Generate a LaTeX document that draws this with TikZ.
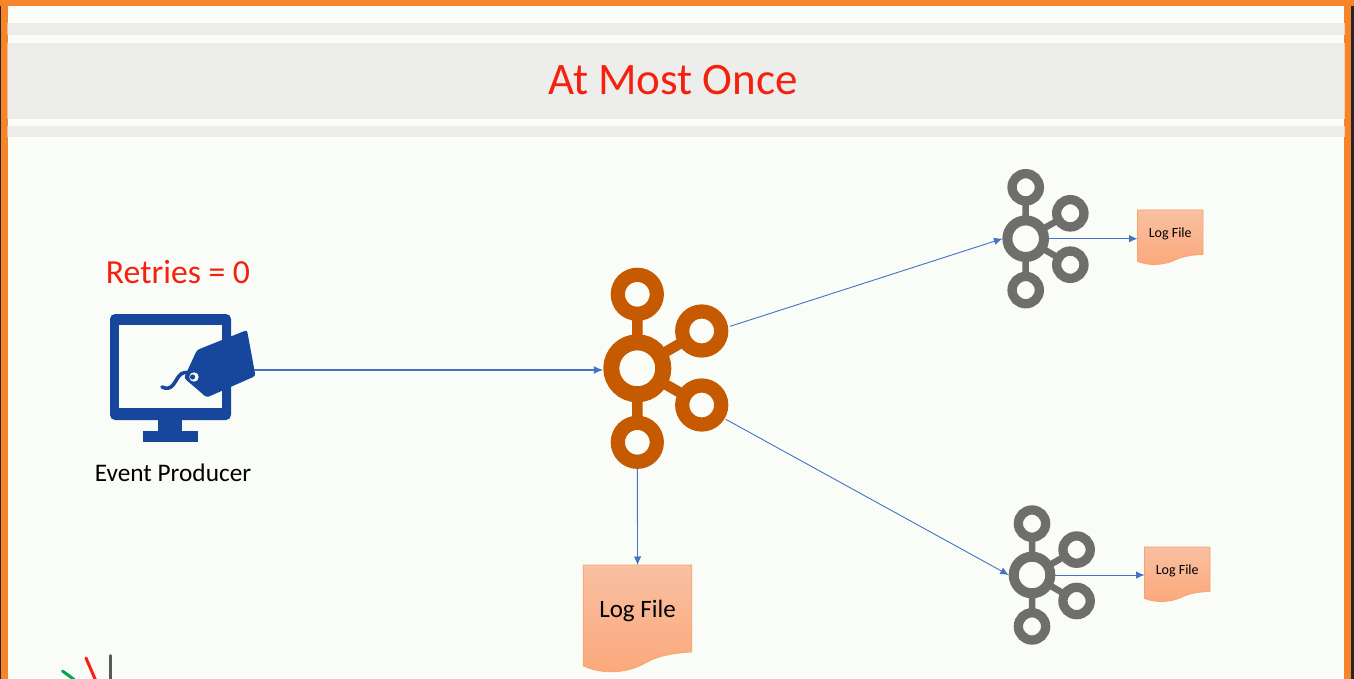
\documentclass[tikz,border=0pt]{standalone}
\usepackage{fontspec}
\setmainfont{Carlito}
\usetikzlibrary{arrows.meta}
\definecolor{bgc}{HTML}{FAFCF7}
\definecolor{bandc}{HTML}{EDEDEB}
\definecolor{framec}{HTML}{F5842B}
\definecolor{titlered}{HTML}{F5210F}
\definecolor{kafkaor}{HTML}{C55A00}
\definecolor{kafkagr}{HTML}{6E6E6A}
\definecolor{monblue}{HTML}{16479C}
\definecolor{arrowc}{HTML}{4472C4}
\definecolor{doctop}{HTML}{F9C0A2}
\definecolor{docbot}{HTML}{FBA87A}
\definecolor{docedge}{HTML}{F4A56E}
\tikzset{
  x=1pt,y=-1pt,
  band/.style={fill=bandc,draw=none},
  ringbig/.style={circle,draw=#1,line width=16pt,minimum size=52pt,inner sep=0pt},
  ringsm/.style={circle,draw=#1,line width=14.2pt,minimum size=39pt,inner sep=0pt},
  ringgbig/.style={circle,draw=#1,line width=10pt,minimum size=36.6pt,inner sep=0pt},
  ringgsm/.style={circle,draw=#1,line width=9.3pt,minimum size=27.3pt,inner sep=0pt},
  conn/.style={draw=arrowc,line width=0.9pt,-{Latex[length=8.5pt,width=7.5pt]}},
  connthick/.style={draw=arrowc,line width=1.6pt,-{Latex[length=9.5pt,width=8pt]}},
  doctext/.style={inner sep=0pt,text=black},
  docface/.style={draw=docedge,line width=0.7pt,top color=doctop,bottom color=docbot},
}
\newcommand{\kafkabig}[3]{%
  \begin{scope}[shift={(#2,#3)}]
    \draw[kafkaor,line width=10.5pt] (0,0)--(0,-74) (0,0)--(0,74) (0,0)--(64.4,-37.3) (0,0)--(64.4,36.7);
    \node[ringbig=kafkaor,fill=bgc] (#1c) at (0,0) {};
    \node[ringsm=kafkaor,fill=bgc] (#1t) at (0,-74) {};
    \node[ringsm=kafkaor,fill=bgc] (#1a) at (64.4,-37.3) {};
    \node[ringsm=kafkaor,fill=bgc] (#1b) at (64.4,36.7) {};
    \node[ringsm=kafkaor,fill=bgc] (#1d) at (0,74) {};
  \end{scope}}
\newcommand{\kafkasmall}[3]{%
  \begin{scope}[shift={(#2,#3)}]
    \draw[kafkagr,line width=6.5pt] (0,0)--(0,-51.4) (0,0)--(0,51.4) (0,0)--(44.6,-25.4) (0,0)--(44.6,26);
    \node[ringgbig=kafkagr,fill=bgc] (#1c) at (0,0) {};
    \node[ringgsm=kafkagr,fill=bgc] (#1t) at (0,-51.4) {};
    \node[ringgsm=kafkagr,fill=bgc] (#1a) at (44.6,-25.4) {};
    \node[ringgsm=kafkagr,fill=bgc] (#1b) at (44.6,26) {};
    \node[ringgsm=kafkagr,fill=bgc] (#1d) at (0,51.4) {};
  \end{scope}}
\newcommand{\logdoc}[7]{%
  \begin{scope}[shift={(#2,#3)},x=#4pt,y=-#5pt]
    \path[docface] (0,0)--(1,0)--(1,.8145)
      .. controls (.72,.83) and (.62,.89) .. (.55,.93)
      .. controls (.40,1.01) and (.18,1.03) .. (0,.945)--cycle;
  \end{scope}
  \node[minimum width=#4pt,minimum height=#5pt,inner sep=0pt,outer sep=0pt,anchor=north west] (#1) at (#2,#3) {};
  \node[doctext,font=\fontsize{#6}{#6}\selectfont] at (#2+#4/2,#3+#7) {Log File};}
\begin{document}
\begin{tikzpicture}
\useasboundingbox (0,0) rectangle (1354,679);
\fill[framec] (0,0) rectangle (1354,679);
\fill[black!85] (0,0) rectangle (1,679);
\fill[black!85] (1351,0) rectangle (1354,679);
\fill[framec] (0,0) rectangle (1354,6);
\fill[bgc] (8,6) rectangle (1344,679);
\fill[band] (8,23.5) rectangle (1344,35);
\fill[band] (8,43) rectangle (1344,119);
\fill[band] (8,126) rectangle (1344,137);
\foreach \ya/\yb in {23.5/35,43/119,126/137}{
  \fill[framec!45!bandc] (7,\ya) rectangle (8,\yb);
  \fill[framec!25!bandc] (1344,\ya) rectangle (1345,\yb);
}
\node[text=titlered,font=\fontsize{45}{50}\selectfont,inner sep=0pt] (title) at (673,80.3) {At Most Once};
\node[text=titlered,font=\fontsize{33.7}{38}\selectfont,inner sep=0pt] (retries) at (178,272) {Retries = 0};
\node[text=black,font=\fontsize{25.3}{30}\selectfont,inner sep=0pt] (prodlabel) at (173,473) {Event Producer};
% monitor
\fill[monblue,rounded corners=5pt] (110,314) rectangle (231,420);
\fill[bgc] (119,325.3) rectangle (222.3,408.3);
\fill[monblue] (158.3,419) rectangle (182.3,432);
\fill[monblue] (143.3,431) rectangle (197.7,442.3);
% tag
\fill[monblue,rounded corners=2.5pt] (247,330) -- (255.5,376) -- (206.7,397.5) -- (184,378) -- (197,350) -- cycle;
\draw[monblue,line width=3.6pt,line cap=round] (162,387) .. controls (172,392) and (175,381) .. (179,376) .. controls (182,372) and (187,372) .. (190,373);
\fill[bgc] (194,377) circle (4.7pt);
\fill[monblue] (192.6,377) circle (2.6pt);
\node[inner sep=0pt,outer sep=0pt,minimum size=0pt] (producer) at (254,370) {};
\kafkabig{k}{637.3}{368.3}
\kafkasmall{g}{1025.7}{238.7}
\kafkasmall{h}{1032}{575}
\logdoc{d0}{583.3}{565}{108.5}{106.8}{25}{46}
\logdoc{d1}{1137.5}{210}{65.5}{54.5}{14}{24}
\logdoc{d2}{1144.5}{547}{65.5}{54.5}{14}{24}
\draw[connthick] (producer) -- (kc.west |- producer);
\draw[conn] ([shift={(2,0)}]ka.10) -- (gc.west);
\draw[conn] ([shift={(1,1)}]kb.-30) -- (hc.west);
\draw[conn] (kd.south) -- (d0.north);
\draw[conn] (gc.east) -- (d1.west |- gc.east);
\draw[conn] (hc.east) -- (d2.west |- hc.east);
\draw[color={rgb,255:red,0;green,166;blue,81},line width=3pt,line cap=round] (62.5,671) -- (74,679.5);
\draw[color={rgb,255:red,250;green,30;blue,20},line width=3pt,line cap=round] (86,658) -- (95.5,680);
\draw[color=black!65,line width=3pt,line cap=round] (110,655.5) -- (110,680);
\end{tikzpicture}
\end{document}
